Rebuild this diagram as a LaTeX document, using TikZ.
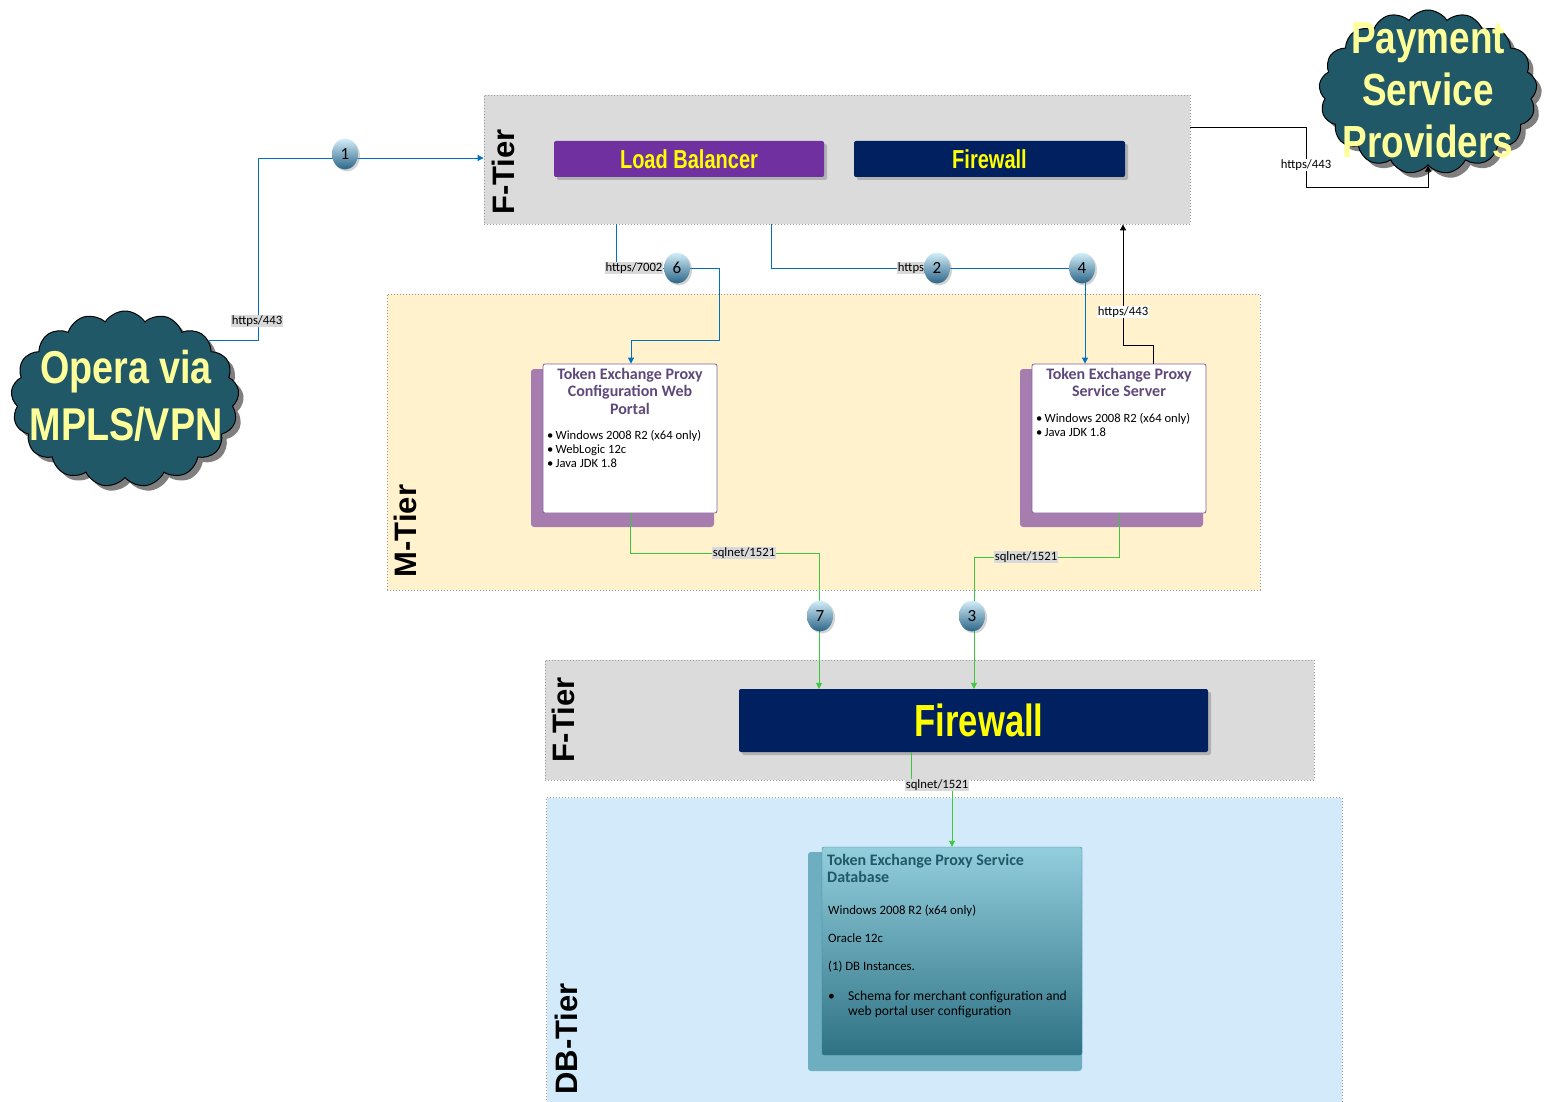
\documentclass[tikz,border=0pt]{standalone}
\usepackage{fontspec}
\setmainfont{Carlito}
\newfontfamily\narrowfont[FakeStretch=0.77]{Liberation Sans}
\newfontfamily\cloudfont[FakeStretch=0.82]{Liberation Sans}
\newfontfamily\tierfont{Liberation Sans}
\usetikzlibrary{shapes.symbols,shapes.geometric,shadows,arrows.meta}

\definecolor{tiergray}{HTML}{DBDBDB}
\definecolor{tieryellow}{HTML}{FFF2CC}
\definecolor{tierblue}{HTML}{D3EAFA}
\definecolor{lbpurple}{HTML}{7030A0}
\definecolor{fwnavy}{HTML}{002060}
\definecolor{cloudteal}{HTML}{215868}
\definecolor{cloudtext}{HTML}{FFFF99}
\definecolor{hiyellow}{HTML}{FFFF00}
\definecolor{linkblue}{HTML}{0070C0}
\definecolor{linkgreen}{HTML}{3CC83C}
\definecolor{labelgray}{HTML}{D9D9D9}
\definecolor{srvborder}{HTML}{8064A2}
\definecolor{srvshadow}{HTML}{A77DB0}
\definecolor{srvtitle}{HTML}{5F497A}
\definecolor{dbtop}{HTML}{93CEDD}
\definecolor{dbbottom}{HTML}{2E7284}
\definecolor{dbborder}{HTML}{31859C}
\definecolor{dbshadow}{HTML}{6FADC1}
\definecolor{dbtitle}{HTML}{215868}
\definecolor{balltop}{HTML}{D4EFFA}
\definecolor{ballbottom}{HTML}{2A6486}

\tikzset{
  tierline/.style={draw=gray!80, dash pattern=on 1pt off 2pt, line width=0.8pt},
  tier/.style={rectangle, inner sep=0, tierline},
  tierlabel/.style={rotate=90, inner sep=0, font=\tierfont\bfseries\fontsize{31}{31}\selectfont},
  device/.style={rectangle, rounded corners=2pt, inner sep=0, text=hiyellow,
    font=\narrowfont\bfseries\fontsize{26}{28}\selectfont,
    drop shadow={shadow xshift=3pt, shadow yshift=-3pt, opacity=0.45}},
  netcloud/.style={cloud, cloud puffs=17, cloud puff arc=115, cloud ignores aspect,
    draw=black, line width=1pt, fill=cloudteal, inner sep=0,
    drop shadow={shadow xshift=5pt, shadow yshift=-5pt, fill=black, opacity=0.5}},
  cloudlabel/.style={align=center, text=cloudtext, inner sep=0,
    font=\cloudfont\bfseries\fontsize{45}{52}\selectfont},
  srvback/.style={rectangle, rounded corners=3pt, fill=srvshadow, inner sep=0},
  server/.style={rectangle, rounded corners=2pt, draw=srvborder, fill=white, line width=0.8pt, inner sep=0},
  srvheading/.style={align=center, text=srvtitle, inner sep=0,
    font=\bfseries\fontsize{16}{17.5}\selectfont},
  bullets/.style={align=left, inner sep=0, font=\fontsize{12.6}{14}\selectfont},
  dbtext/.style={inner sep=0, font=\fontsize{12.8}{15}\selectfont},
  dbbullet/.style={inner sep=0, font=\fontsize{13.6}{15}\selectfont},
  dbheading/.style={inner sep=0, text=dbtitle, font=\bfseries\fontsize{16}{17}\selectfont},
  ball/.style={ellipse, minimum width=26pt, minimum height=31pt, inner sep=0,
    top color=balltop, bottom color=ballbottom, font=\fontsize{17}{17}\selectfont,
    drop shadow={shadow xshift=2pt, shadow yshift=-2pt, opacity=0.35}},
  wire/.style={line width=0.9pt, -{Triangle[width=6pt,length=6pt]}},
  bluewire/.style={wire, draw=linkblue},
  greenwire/.style={wire, draw=linkgreen},
  blackwire/.style={wire, draw=black},
  graylabel/.style={fill=labelgray, inner sep=1pt, font=\fontsize{12.7}{13}\selectfont},
  whitelabel/.style={fill=white, inner sep=1pt, font=\fontsize{12.7}{13}\selectfont}
}

\begin{document}
\begin{tikzpicture}[x=1pt,y=-1pt]
\useasboundingbox (0,0) rectangle (1545,1102);

% ---- tiers ----
\node[tier, fill=tiergray, minimum width=706pt, minimum height=129pt] (ftop) at (837,159.5) {};
\node[tierlabel] (ftoplbl) at (503,172) {F-Tier};
\node[tier, fill=tieryellow, minimum width=873pt, minimum height=296pt] (mtier) at (823.5,442) {};
\node[tierlabel] (mtierlbl) at (405,531) {M-Tier};
\node[tier, fill=tiergray, minimum width=769pt, minimum height=120pt] (fbottom) at (929.5,720) {};
\node[tierlabel] (fbottomlbl) at (563,720) {F-Tier};
\node[rectangle, fill=tierblue, inner sep=0, minimum width=795pt, minimum height=305pt] (dbtier) at (944.5,950.5) {};
\draw[tierline] (dbtier.south west) |- (dbtier.north east) -- (dbtier.south east);
\node[tierlabel] (dbtierlbl) at (566,1039) {DB-Tier};

% ---- network devices ----
\node[device, fill=lbpurple, minimum width=270pt, minimum height=36pt] (lb) at (689,159) {Load Balancer};
\node[device, fill=fwnavy, minimum width=271pt, minimum height=36pt] (fwtop) at (989.5,159) {Firewall};
\node[device, fill=fwnavy, minimum width=469pt, minimum height=63pt,
  font=\narrowfont\bfseries\fontsize{45}{48}\selectfont] (fwdb) at (973.5,720.5) {\hspace*{11pt}Firewall};

% ---- clouds ----
\node[netcloud, minimum width=228pt, minimum height=176pt] (opera) at (125,399) {};
\node[cloudlabel, font=\cloudfont\bfseries\fontsize{46}{57}\selectfont] (operatext) at (126,396) {Opera via\\MPLS/VPN};
\node[netcloud, minimum width=218pt, minimum height=164pt] (psp) at (1428,92) {};
\node[cloudlabel] (psptext) at (1428,90) {Payment\\Service\\Providers};

% ---- application servers ----
\node[srvback, minimum width=183pt, minimum height=158pt] (portalback) at (622.5,448) {};
\node[server, minimum width=174pt, minimum height=149pt] (portal) at (630,438.5) {};
\node[srvheading, anchor=north] (portaltitle) at (630,368) {Token Exchange Proxy\\Configuration Web\\Portal};
\node[bullets, anchor=north west] (portalspec) at (547,430)
  {\textbullet\,Windows 2008 R2 (x64 only)\\\textbullet\,WebLogic 12c\\\textbullet\,Java JDK 1.8};

\node[srvback, minimum width=183pt, minimum height=158pt] (serverback) at (1111.5,448) {};
\node[server, minimum width=174pt, minimum height=149pt] (server) at (1119,438.5) {};
\node[srvheading, anchor=north] (servertitle) at (1119,368) {Token Exchange Proxy\\Service Server};
\node[bullets, anchor=north west] (serverspec) at (1036,413)
  {\textbullet\,Windows 2008 R2 (x64 only)\\\textbullet\,Java JDK 1.8};

% ---- database ----
\node[rectangle, rounded corners=3pt, fill=dbshadow, inner sep=0, minimum width=274pt, minimum height=219pt] (dbback) at (945,961.5) {};
\node[rectangle, rounded corners=2pt, draw=dbborder, top color=dbtop, bottom color=dbbottom, inner sep=0,
  minimum width=260pt, minimum height=208pt] (db) at (952,951) {};
\node[dbheading, anchor=base west] (dbt1) at (827,865) {Token Exchange Proxy Service};
\node[dbheading, anchor=base west] (dbt2) at (827,882) {Database};
\node[dbtext, anchor=base west] (dbl1) at (828,914.5) {Windows 2008 R2 (x64 only)};
\node[dbtext, anchor=base west] (dbl2) at (828,942.5) {Oracle 12c};
\node[dbtext, anchor=base west] (dbl3) at (828,970.5) {(1) DB Instances.};
\node[dbbullet, anchor=base west] (dbbul) at (828,1000.5) {\textbullet};
\node[dbbullet, anchor=base west] (dbl4) at (848,1000.5) {Schema for merchant configuration and};
\node[dbbullet, anchor=base west] (dbl5) at (848,1015.5) {web portal user configuration};

% ---- connectors ----
\coordinate (j1) at (258,158);
\draw[bluewire] (opera.35) -| (j1) -- (ftop.west |- j1);

\coordinate (y127) at (0,127);
\coordinate (p1) at (1306,187);
\draw[blackwire] (ftop.east |- y127) -| (p1) -| (psp.south);

\coordinate (x616) at (616,0);
\coordinate (k6) at (719,268);
\coordinate (k6b) at (631,340);
\draw[bluewire] (ftop.south -| x616) |- (k6) |- (k6b) -- (portal.north -| k6b);

\coordinate (x771) at (771,0);
\coordinate (k2) at (1085,268);
\draw[bluewire] (ftop.south -| x771) |- (k2) -- (server.north -| k2);

\coordinate (x1153) at (1153,0);
\coordinate (k4) at (1123,345);
\draw[blackwire] (server.north -| x1153) |- (k4) -- (ftop.south -| k4);

\coordinate (k7) at (819,553);
\draw[greenwire] (portal.south) |- (k7) -- (fwdb.north -| k7);

\coordinate (k3) at (974,557);
\draw[greenwire] (server.south) |- (k3) -- (fwdb.north -| k3);

\coordinate (x911) at (911,0);
\coordinate (k5) at (952,785);
\draw[greenwire] (fwdb.south -| x911) |- (k5) -- (db.north);

% ---- connector labels ----
\node[graylabel] (l1) at (257,321) {https/443};
\node[whitelabel] (lpay) at (1306,165) {https/443};
\node[graylabel] (l6) at (634,268) {https/7002};
\node[graylabel] (l2) at (911,268) {https};
\node[whitelabel] (l4) at (1123,312) {https/443};
\node[graylabel] (l7) at (744,553) {sqlnet/1521};
\node[graylabel] (l3) at (1026,557) {sqlnet/1521};
\node[graylabel] (l5) at (937,785) {sqlnet/1521};

% ---- step markers ----
\node[ball] (b1) at (345,154) {1};
\node[ball] (b6) at (677,268) {6};
\node[ball] (b2) at (937,268) {2};
\node[ball] (b4) at (1082,268) {4};
\node[ball] (b7) at (820,616) {7};
\node[ball] (b3) at (972,616) {3};
\end{tikzpicture}
\end{document}
